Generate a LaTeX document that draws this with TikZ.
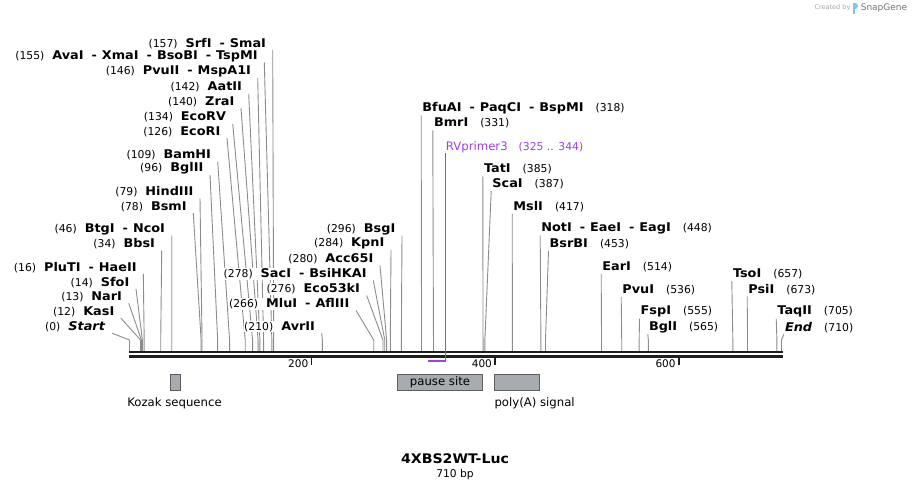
\documentclass[tikz,border=0pt]{standalone}
\usepackage{fontspec}
\setmainfont{DejaVu Sans}[BoldFeatures={FakeStretch=1.07}, BoldItalicFeatures={FakeStretch=1.07}]
\usetikzlibrary{calc, positioning}

\definecolor{leader}{HTML}{8C8C8C}
\definecolor{barcol}{HTML}{1E1E1E}
\definecolor{primer}{HTML}{9F3FE8}
\definecolor{featfill}{HTML}{A7ABB2}
\definecolor{featdraw}{HTML}{5E5E5E}
\definecolor{logo}{HTML}{7CC4F0}

\newcommand{\bpnum}[1]{{\fontsize{10.8}{12}\selectfont(#1)}}
\newcommand{\enz}[1]{{\fontsize{12}{14}\selectfont\bfseries #1}}
\newcommand{\enzsep}{\hspace{8pt}-\hspace{5pt}}

% bp / label right end / label y / name
\newcommand{\leftsites}{0/106/326.7/{\textit{Start}}, 12/115/311.7/KasI, 13/122.7/296.7/NarI,
  14/130/282.3/SfoI, 16/137.3/267.3/{PluTI\enzsep HaeII}, 34/155.7/244/BbsI,
  46/165.7/229/{BtgI\enzsep NcoI}, 78/187.3/206.7/BsmI, 79/194/191.7/HindIII,
  96/204/168.3/BglII, 109/211.7/155/BamHI, 126/221/131.7/EcoRI, 134/226.7/117.3/EcoRV,
  140/235/101.7/ZraI, 142/242.7/87.3/AatII, 146/251.7/71.7/{PvuII\enzsep MspA1I},
  155/258.3/56/{AvaI\enzsep XmaI\enzsep BsoBI\enzsep TspMI}, 157/266.7/43.3/{SrfI\enzsep SmaI},
  210/315.7/326.7/AvrII, 266/350/304/{MluI\enzsep AflIII}, 276/360.7/289/Eco53kI,
  278/367.3/274/{SacI\enzsep BsiHKAI}, 280/374/259/Acc65I, 284/385/243.3/KpnI, 296/396/229/BsgI}
% bp / label left end / label y / name
\newcommand{\rightsites}{318/421.7/108.3/{BfuAI\enzsep PaqCI\enzsep BspMI}, 331/433.3/123.3/BmrI,
  385/483.3/169.3/TatI, 387/491.7/184/ScaI, 417/512.7/206.7/MslI,
  448/540.7/228.3/{NotI\enzsep EaeI\enzsep EagI}, 453/549/244/BsrBI, 514/601.7/266.7/EarI,
  536/621.7/290/PvuI, 555/640/311.7/FspI, 565/648.3/327.3/BglI, 657/732.3/274/TsoI,
  673/747.7/289.3/PsiI, 705/776.7/311.7/TaqII, 710/784.3/327.3/{\textit{End}}}

\tikzset{
  cut/.style={draw=leader, line width=0.9pt},
  bar/.style={draw=barcol, line width=2.5pt},
  lftlab/.style={anchor=east, inner sep=0.5pt, fill=white},
  rgtlab/.style={anchor=west, inner sep=0.5pt, fill=white},
  feat/.style={draw=featdraw, fill=featfill, line width=0.8pt, minimum height=16.5pt, inner sep=0pt,
    font=\fontsize{11.7}{13}\selectfont},
  plain/.style={inner sep=0pt, font=\fontsize{11.7}{13}\selectfont},
}

\begin{document}
\begin{tikzpicture}[x=1pt, y=-1pt]
  \useasboundingbox (0,0) rectangle (912,490);

  \foreach \bp/\xe/\yc/\nm in \leftsites {
    \coordinate (s\bp) at ({129.5+0.9183*\bp},351);
    \coordinate (t\bp) at (\xe+6,\yc+6.5);
    \draw[cut] (s\bp) -- ++(0,-11) -- (t\bp);
  }
  \foreach \bp/\xs/\yc/\nm in \rightsites {
    \coordinate (s\bp) at ({129.5+0.9183*\bp},351);
    \coordinate (t\bp) at (\xs-0.5,\yc+7);
    \draw[cut] (s\bp) -- ++(0,-11) -- (t\bp);
  }

  \coordinate (barL) at (129,351.8);
  \coordinate (barR) at (782.7,351.8);
  \draw[bar] (barL) -- (barR);
  \draw[bar] ([yshift=-4.5pt]barL) -- ([yshift=-4.5pt]barR);

  \foreach \bp/\xe/\yc/\nm in \leftsites
    \node[lftlab] (l\bp) at (\xe,\yc) {\bpnum{\bp}\hspace{8pt}\enz{\nm}};
  \foreach \bp/\xs/\yc/\nm in \rightsites
    \node[rgtlab] (r\bp) at (\xs,\yc) {\enz{\nm}\hspace{12pt}\bpnum{\bp}};

  % primer
  \coordinate (p1) at ({129.5+0.9183*325},360.8);
  \coordinate (p2) at ({129.5+0.9183*344},360.8);
  \node[rgtlab, text=primer] (rv) at (445.2,147.3)
    {{\fontsize{11.7}{13}\selectfont RVprimer3}\hspace{11pt}{\fontsize{10.8}{12}\selectfont(325 .. 344)}};
  \coordinate (ptop) at (445.7,153);
  \draw[primer, line width=2pt] (p1) -- (p2);
  \draw[primer, line width=0.9pt] (ptop) -- (ptop |- 0,362);

  % scale
  \foreach \t in {200,400,600} {
    \coordinate (k\t) at ({127.8+0.9183*\t},357.8);
    \draw[barcol, line width=1.5pt] (k\t) -- ++(0,6.7);
    \node[anchor=east, inner sep=0pt, font=\fontsize{10.5}{12}\selectfont] (kl\t) at ($(k\t)+(-3,6.3)$) {\t};
  }

  % features
  \node[feat, minimum width=10.7pt] (kozak) at (175.3,382.3) {};
  \node[feat, minimum width=85.4pt] (pause) at (440,382.3) {pause site};
  \node[feat, minimum width=45pt] (polya) at (516.8,382.3) {};
  \node[plain] (kozaklab) at (174.5,403.5) {Kozak sequence};
  \node[plain, anchor=west] (polyalab) at (494.3,403.5) {poly(A) signal};

  \node[inner sep=0pt, font=\bfseries\fontsize{13.2}{16}\selectfont] (title) at (455,458.5) {4XBS2WT-Luc};
  \node[inner sep=0pt, font=\fontsize{10.7}{12}\selectfont, below=5pt of title] (size) {710 bp};

  % watermark
  \node[inner sep=0pt, text=black!35, font=\fontsize{6.5}{7}\selectfont] (created) at (832.5,8) {Created by};
  \fill[logo] (852.5,3) rectangle (854.5,13.5);
  \fill[logo] (854.5,3) .. controls (859,3) and (859,9) .. (854.5,9) -- cycle;
  \node[inner sep=0pt, anchor=west, text=black!55, font=\fontsize{9}{10}\selectfont, right=3pt of created.east, xshift=7pt] (snapgene) {SnapGene};
\end{tikzpicture}
\end{document}
